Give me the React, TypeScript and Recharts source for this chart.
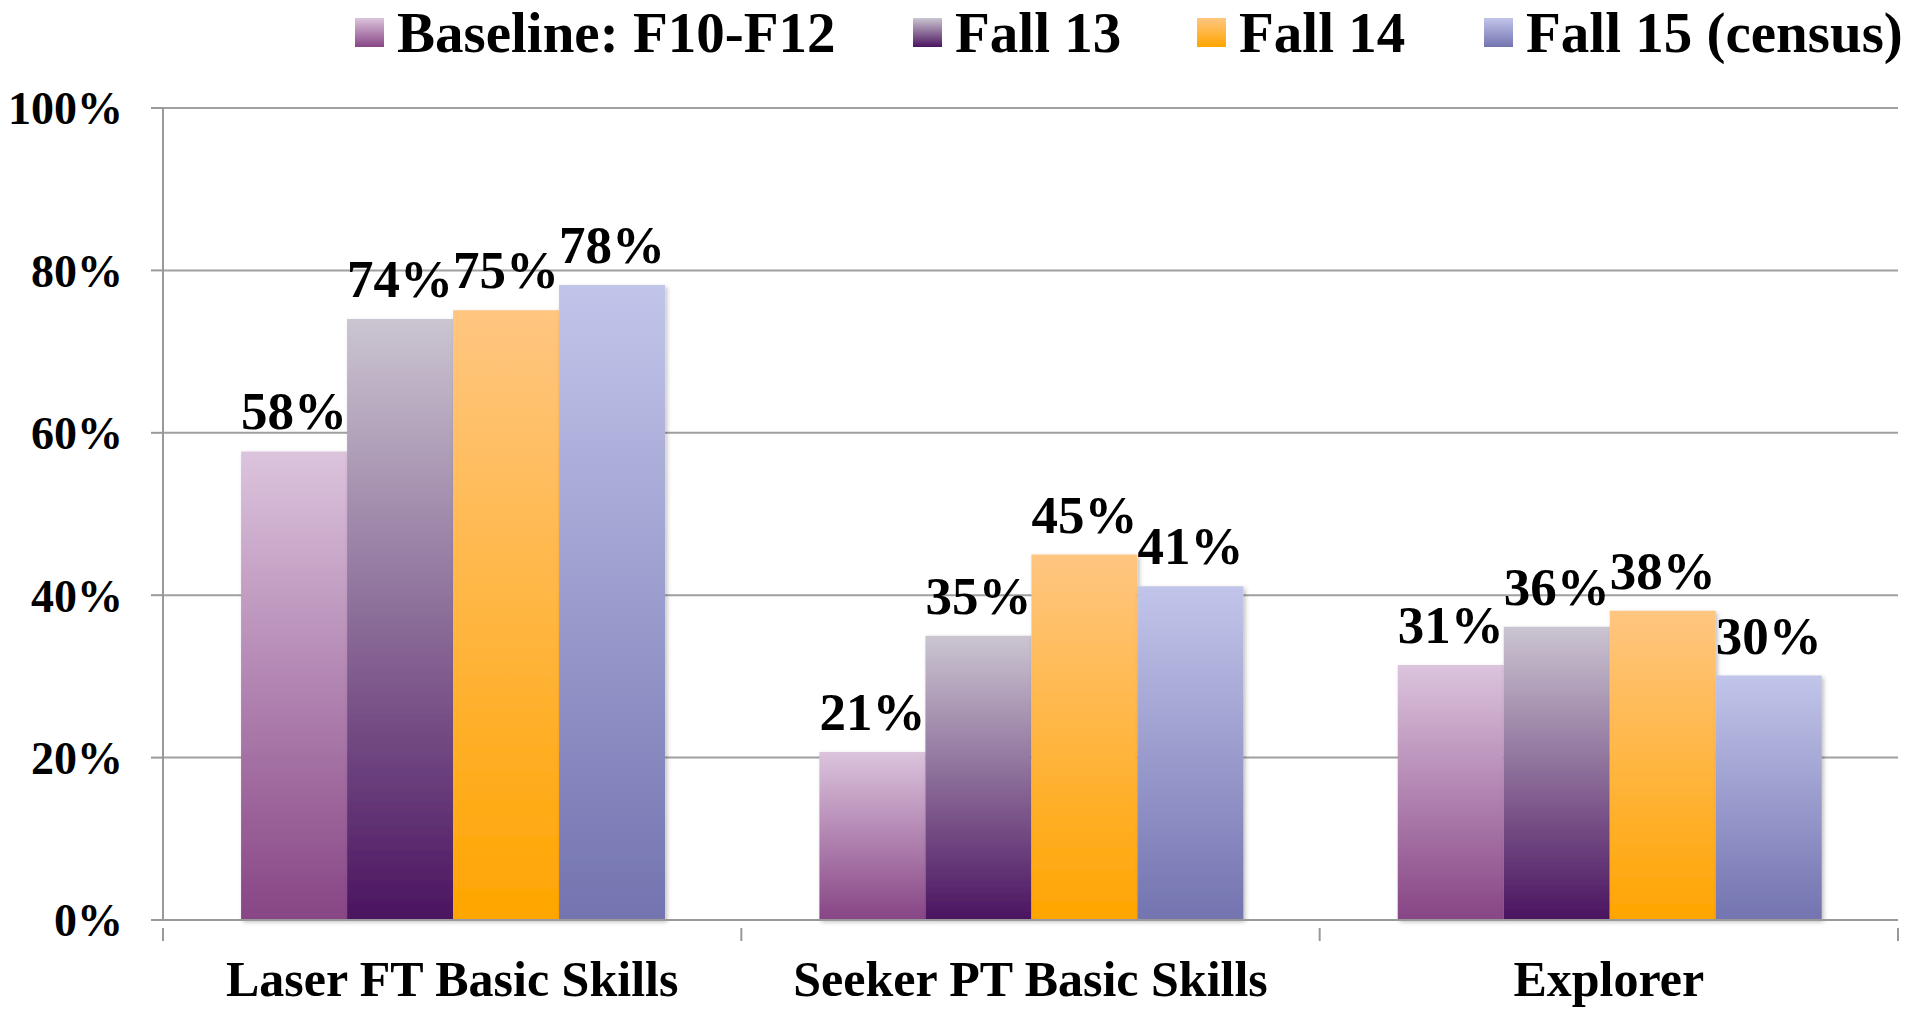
import { Bar, BarChart, CartesianGrid, LabelList, XAxis, YAxis } from "recharts"

const categories = ["Laser FT Basic Skills", "Seeker PT Basic Skills", "Explorer"]
const seriesNames = ["Baseline: F10-F12", "Fall 13", "Fall 14", "Fall 15 (census)"]
const baseline = [57.7, 20.7, 31.4]
const fall13 = [74.0, 35.0, 36.1]
const fall14 = [75.1, 45.0, 38.1]
const fall15 = [78.2, 41.1, 30.1]
const yTicks = [0, 20, 40, 60, 80, 100]

// gradient stops, top -> bottom
const gradients = [
  { id: "gBase", top: "#dcc4dd", bottom: "#874585" },
  { id: "g13", top: "#cbc5d1", bottom: "#4b1460" },
  { id: "g14", top: "#ffc681", bottom: "#ffa500" },
  { id: "g15", top: "#c2c5ea", bottom: "#7373b0" },
]

const keys = ["baseline", "fall13", "fall14", "fall15"]
const legendLeft = [355, 913, 1197, 1484]

const data = categories.map((name, i) => ({
  name,
  baseline: baseline[i],
  fall13: fall13[i],
  fall14: fall14[i],
  fall15: fall15[i],
}))

const FONT = '"Liberation Serif", "Times New Roman", serif'
const W = 1923
const H = 1011
const LEFT = 163
const RIGHT = 25
const HALF = (W - LEFT - RIGHT) / categories.length / 2

function CategoryTick(props: any) {
  const { x, y, payload, index } = props
  const last = index === categories.length - 1
  return (
    <g>
      <line x1={x - HALF} x2={x - HALF} y1={y} y2={y + 13} stroke="#999" strokeWidth={2} />
      {last && <line x1={x + HALF} x2={x + HALF} y1={y} y2={y + 13} stroke="#999" strokeWidth={2} />}
      <text x={x} y={y + 68} textAnchor="middle" fontFamily={FONT} fontWeight="bold" fontSize={50} fill="#000">
        {payload.value}
      </text>
    </g>
  )
}

function Legend() {
  return (
    <div style={{ fontFamily: FONT, fontWeight: "bold", fontSize: 57, whiteSpace: "nowrap" }}>
      {seriesNames.map((s, i) => (
        <div
          key={s}
          style={{ position: "absolute", top: 0, left: legendLeft[i], height: 64, display: "flex", alignItems: "center" }}
        >
          <div
            style={{
              width: 29,
              height: 29,
              marginRight: 13,
              background: `linear-gradient(${gradients[i].top}, ${gradients[i].bottom})`,
            }}
          />
          <span>{s}</span>
        </div>
      ))}
    </div>
  )
}

export default function App() {
  return (
    <div style={{ position: "absolute", left: 0, top: 0, width: W, height: H, background: "#fff" }}>
      <BarChart
        width={W}
        height={H}
        data={data}
        margin={{ top: 108, right: RIGHT, bottom: 0, left: 0 }}
        barGap={0}
        barCategoryGap="13.5%"
      >
        <defs>
          {gradients.map((g) => (
            <linearGradient key={g.id} id={g.id} x1="0" y1="0" x2="0" y2="1">
              <stop offset="0%" stopColor={g.top} />
              <stop offset="100%" stopColor={g.bottom} />
            </linearGradient>
          ))}
          <filter id="shadow" x="-10%" y="-10%" width="130%" height="130%">
            <feDropShadow dx="2" dy="2" stdDeviation="2" floodColor="#000" floodOpacity="0.25" />
          </filter>
        </defs>
        <CartesianGrid vertical={false} stroke="#a0a0a0" strokeWidth={2} />
        <XAxis
          dataKey="name"
          height={91}
          axisLine={{ stroke: "#999", strokeWidth: 2 }}
          tickLine={false}
          interval={0}
          tick={<CategoryTick />}
        />
        <YAxis
          width={LEFT}
          domain={[0, 100]}
          ticks={yTicks}
          interval={0}
          tickFormatter={(v) => `${v}%`}
          axisLine={{ stroke: "#999", strokeWidth: 2 }}
          tickLine={{ stroke: "#999", strokeWidth: 2 }}
          tickSize={12}
          tickMargin={28}
          tick={{ fontFamily: FONT, fontWeight: "bold", fontSize: 46, fill: "#000" }}
        />
        {keys.map((k, i) => (
          <Bar
            key={k}
            dataKey={k}
            name={seriesNames[i]}
            fill={`url(#${gradients[i].id})`}
            filter="url(#shadow)"
            isAnimationActive={false}
          >
            <LabelList
              dataKey={k}
              position="top"
              offset={22}
              formatter={(v: any) => `${Math.round(v)}%`}
              style={{ fontFamily: FONT, fontWeight: "bold", fontSize: 53, fill: "#000" }}
            />
          </Bar>
        ))}
      </BarChart>
      <Legend />
    </div>
  )
}
